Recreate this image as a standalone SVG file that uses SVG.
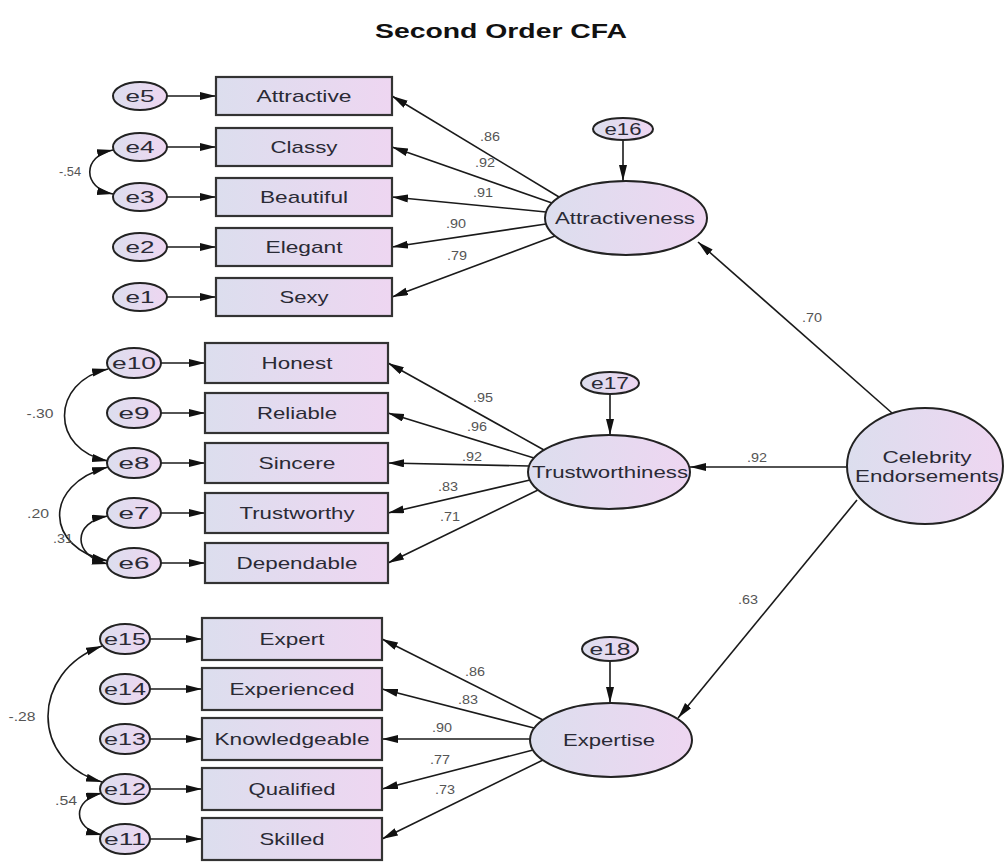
<svg xmlns="http://www.w3.org/2000/svg" width="1004" height="862" viewBox="0 0 1004 862">
<defs>
<linearGradient id="g" x1="0" y1="0" x2="1" y2="0">
<stop offset="0" stop-color="#dcdeee"/>
<stop offset="1" stop-color="#eed6f1"/>
</linearGradient>
<marker id="ah" markerUnits="userSpaceOnUse" markerWidth="17" markerHeight="9" refX="16" refY="4" orient="auto-start-reverse">
<path d="M0,0 L16,4 L0,8 z" fill="#111"/>
</marker>
<style>
.box{fill:url(#g);stroke:#333;stroke-width:2.2}
.ell{fill:url(#g);stroke:#222;stroke-width:2}
.t{font-family:"Liberation Sans",Arial,sans-serif;font-size:17px;fill:#2a2a35;text-anchor:middle}
.lv{font-family:"Liberation Sans",Arial,sans-serif;font-size:16px;fill:#2a2a35;text-anchor:middle}
.n{font-family:"Liberation Sans",Arial,sans-serif;font-size:12px;fill:#555;text-anchor:middle}
.c line,.c path{stroke:#1a1a1a;stroke-width:1.6;fill:none;marker-end:url(#ah)}
.c path.cov{marker-start:url(#ah)}
</style>
</defs>
<rect width="1004" height="862" fill="#fff"/>
<text x="501" y="38" font-family="Liberation Sans,Arial,sans-serif" font-weight="bold" font-size="20" text-anchor="middle" fill="#111" textLength="252" lengthAdjust="spacingAndGlyphs">Second Order CFA</text>

<g id="connectors" class="c">
<!-- Attractiveness group -->
<line x1="167" y1="96" x2="216" y2="96"/>
<line x1="167" y1="147" x2="216" y2="147"/>
<line x1="167" y1="197" x2="216" y2="197"/>
<line x1="167" y1="247" x2="216" y2="247"/>
<line x1="167" y1="297" x2="216" y2="297"/>
<line x1="559" y1="197" x2="392" y2="96"/>
<line x1="552" y1="203" x2="392" y2="147"/>
<line x1="546" y1="212" x2="392" y2="197"/>
<line x1="546" y1="224" x2="392" y2="247"/>
<line x1="555" y1="236" x2="392" y2="297"/>
<line x1="623" y1="140" x2="623" y2="181"/>
<path class="cov" d="M113,150 C82,156 82,188 113,194"/>
<!-- Trustworthiness group -->
<line x1="161" y1="363" x2="205" y2="363"/>
<line x1="161" y1="413" x2="205" y2="413"/>
<line x1="161" y1="463" x2="205" y2="463"/>
<line x1="161" y1="513" x2="205" y2="513"/>
<line x1="161" y1="563" x2="205" y2="563"/>
<line x1="544" y1="450" x2="388" y2="363"/>
<line x1="534" y1="458" x2="388" y2="413"/>
<line x1="529" y1="466" x2="388" y2="463"/>
<line x1="530" y1="480" x2="388" y2="513"/>
<line x1="538" y1="490" x2="388" y2="563"/>
<line x1="610" y1="394" x2="610" y2="435"/>
<path class="cov" d="M108,369 C50,382 50,450 108,461"/>
<path class="cov" d="M108,467 C42,485 45,548 108,561"/>
<path class="cov" d="M108,516 C72,522 72,556 108,564"/>
<!-- Expertise group -->
<line x1="150" y1="639" x2="202" y2="639"/>
<line x1="150" y1="689" x2="202" y2="689"/>
<line x1="150" y1="739" x2="202" y2="739"/>
<line x1="150" y1="789" x2="202" y2="789"/>
<line x1="150" y1="839" x2="202" y2="839"/>
<line x1="543" y1="720" x2="382" y2="639"/>
<line x1="534" y1="728" x2="382" y2="689"/>
<line x1="530" y1="739" x2="382" y2="739"/>
<line x1="533" y1="750" x2="382" y2="789"/>
<line x1="543" y1="760" x2="382" y2="839"/>
<line x1="610" y1="661" x2="610" y2="703"/>
<path class="cov" d="M102,646 C30,672 30,762 102,782"/>
<path class="cov" d="M102,793 C72,800 72,828 102,835"/>
<!-- Second order -->
<line x1="892" y1="413" x2="698" y2="242"/>
<line x1="847" y1="467" x2="690" y2="467"/>
<line x1="857" y1="500" x2="678" y2="718"/>
</g>

<g id="labels">
<text class="n" x="70" y="176" textLength="22" lengthAdjust="spacingAndGlyphs">-.54</text>
<text class="n" x="490" y="141" textLength="20" lengthAdjust="spacingAndGlyphs">.86</text>
<text class="n" x="485" y="167" textLength="20" lengthAdjust="spacingAndGlyphs">.92</text>
<text class="n" x="483" y="197" textLength="20" lengthAdjust="spacingAndGlyphs">.91</text>
<text class="n" x="456" y="228" textLength="20" lengthAdjust="spacingAndGlyphs">.90</text>
<text class="n" x="457" y="260" textLength="20" lengthAdjust="spacingAndGlyphs">.79</text>
<text class="n" x="40" y="418" textLength="27" lengthAdjust="spacingAndGlyphs">-.30</text>
<text class="n" x="38" y="518" textLength="22" lengthAdjust="spacingAndGlyphs">.20</text>
<text class="n" x="63" y="543" textLength="20" lengthAdjust="spacingAndGlyphs">.31</text>
<text class="n" x="483" y="402" textLength="20" lengthAdjust="spacingAndGlyphs">.95</text>
<text class="n" x="477" y="431" textLength="20" lengthAdjust="spacingAndGlyphs">.96</text>
<text class="n" x="472" y="461" textLength="20" lengthAdjust="spacingAndGlyphs">.92</text>
<text class="n" x="448" y="491" textLength="20" lengthAdjust="spacingAndGlyphs">.83</text>
<text class="n" x="450" y="521" textLength="20" lengthAdjust="spacingAndGlyphs">.71</text>
<text class="n" x="22" y="721" textLength="27" lengthAdjust="spacingAndGlyphs">-.28</text>
<text class="n" x="66" y="805" textLength="22" lengthAdjust="spacingAndGlyphs">.54</text>
<text class="n" x="475" y="676" textLength="20" lengthAdjust="spacingAndGlyphs">.86</text>
<text class="n" x="468" y="704" textLength="20" lengthAdjust="spacingAndGlyphs">.83</text>
<text class="n" x="442" y="732" textLength="20" lengthAdjust="spacingAndGlyphs">.90</text>
<text class="n" x="440" y="764" textLength="20" lengthAdjust="spacingAndGlyphs">.77</text>
<text class="n" x="445" y="794" textLength="20" lengthAdjust="spacingAndGlyphs">.73</text>
<text class="n" x="812" y="322" textLength="20" lengthAdjust="spacingAndGlyphs">.70</text>
<text class="n" x="757" y="462" textLength="20" lengthAdjust="spacingAndGlyphs">.92</text>
<text class="n" x="748" y="604" textLength="20" lengthAdjust="spacingAndGlyphs">.63</text>
</g>

<!-- Attractiveness indicators -->
<g id="e5"><ellipse class="ell" cx="140" cy="96" rx="27" ry="14"/><text class="t" x="140" y="102" textLength="29" lengthAdjust="spacingAndGlyphs">e5</text></g>
<g id="e4"><ellipse class="ell" cx="140" cy="147" rx="27" ry="14"/><text class="t" x="140" y="153" textLength="29" lengthAdjust="spacingAndGlyphs">e4</text></g>
<g id="e3"><ellipse class="ell" cx="140" cy="197" rx="27" ry="14"/><text class="t" x="140" y="203" textLength="29" lengthAdjust="spacingAndGlyphs">e3</text></g>
<g id="e2"><ellipse class="ell" cx="140" cy="247" rx="27" ry="14"/><text class="t" x="140" y="253" textLength="29" lengthAdjust="spacingAndGlyphs">e2</text></g>
<g id="e1"><ellipse class="ell" cx="140" cy="297" rx="27" ry="14"/><text class="t" x="140" y="303" textLength="29" lengthAdjust="spacingAndGlyphs">e1</text></g>
<g id="attractive"><rect class="box" x="216" y="77" width="176" height="38"/><text class="t" x="304" y="102" textLength="95" lengthAdjust="spacingAndGlyphs">Attractive</text></g>
<g id="classy"><rect class="box" x="216" y="128" width="176" height="38"/><text class="t" x="304" y="153" textLength="67" lengthAdjust="spacingAndGlyphs">Classy</text></g>
<g id="beautiful"><rect class="box" x="216" y="178" width="176" height="38"/><text class="t" x="304" y="203" textLength="88" lengthAdjust="spacingAndGlyphs">Beautiful</text></g>
<g id="elegant"><rect class="box" x="216" y="228" width="176" height="38"/><text class="t" x="304" y="253" textLength="77" lengthAdjust="spacingAndGlyphs">Elegant</text></g>
<g id="sexy"><rect class="box" x="216" y="278" width="176" height="38"/><text class="t" x="304" y="303" textLength="49" lengthAdjust="spacingAndGlyphs">Sexy</text></g>
<g id="e16"><ellipse class="ell" cx="623" cy="129" rx="30" ry="11"/><text class="t" x="623" y="135" textLength="37" lengthAdjust="spacingAndGlyphs">e16</text></g>
<g id="attractiveness"><ellipse class="ell" cx="626" cy="218" rx="81" ry="37"/><text class="lv" x="625" y="224" textLength="140" lengthAdjust="spacingAndGlyphs">Attractiveness</text></g>

<!-- Trustworthiness indicators -->
<g id="e10"><ellipse class="ell" cx="134" cy="363" rx="27" ry="15"/><text class="t" x="134" y="369" textLength="44" lengthAdjust="spacingAndGlyphs">e10</text></g>
<g id="e9"><ellipse class="ell" cx="134" cy="413" rx="27" ry="15"/><text class="t" x="134" y="419" textLength="31" lengthAdjust="spacingAndGlyphs">e9</text></g>
<g id="e8"><ellipse class="ell" cx="134" cy="463" rx="27" ry="15"/><text class="t" x="134" y="469" textLength="31" lengthAdjust="spacingAndGlyphs">e8</text></g>
<g id="e7"><ellipse class="ell" cx="134" cy="513" rx="27" ry="15"/><text class="t" x="134" y="519" textLength="31" lengthAdjust="spacingAndGlyphs">e7</text></g>
<g id="e6"><ellipse class="ell" cx="134" cy="563" rx="27" ry="15"/><text class="t" x="134" y="569" textLength="31" lengthAdjust="spacingAndGlyphs">e6</text></g>
<g id="honest"><rect class="box" x="205" y="343" width="183" height="40"/><text class="t" x="297" y="369" textLength="71" lengthAdjust="spacingAndGlyphs">Honest</text></g>
<g id="reliable"><rect class="box" x="205" y="393" width="183" height="40"/><text class="t" x="297" y="419" textLength="80" lengthAdjust="spacingAndGlyphs">Reliable</text></g>
<g id="sincere"><rect class="box" x="205" y="443" width="183" height="40"/><text class="t" x="297" y="469" textLength="77" lengthAdjust="spacingAndGlyphs">Sincere</text></g>
<g id="trustworthy"><rect class="box" x="205" y="493" width="183" height="40"/><text class="t" x="297" y="519" textLength="115" lengthAdjust="spacingAndGlyphs">Trustworthy</text></g>
<g id="dependable"><rect class="box" x="205" y="543" width="183" height="40"/><text class="t" x="297" y="569" textLength="121" lengthAdjust="spacingAndGlyphs">Dependable</text></g>
<g id="e17"><ellipse class="ell" cx="610" cy="383" rx="29" ry="11"/><text class="t" x="610" y="389" textLength="38" lengthAdjust="spacingAndGlyphs">e17</text></g>
<g id="trustworthiness"><ellipse class="ell" cx="609" cy="472" rx="81" ry="37"/><text class="lv" x="610" y="478" textLength="156" lengthAdjust="spacingAndGlyphs">Trustworthiness</text></g>

<!-- Expertise indicators -->
<g id="e15"><ellipse class="ell" cx="125" cy="639" rx="25" ry="15"/><text class="t" x="125" y="645" textLength="42" lengthAdjust="spacingAndGlyphs">e15</text></g>
<g id="e14"><ellipse class="ell" cx="125" cy="689" rx="25" ry="15"/><text class="t" x="125" y="695" textLength="42" lengthAdjust="spacingAndGlyphs">e14</text></g>
<g id="e13"><ellipse class="ell" cx="125" cy="739" rx="25" ry="15"/><text class="t" x="125" y="745" textLength="42" lengthAdjust="spacingAndGlyphs">e13</text></g>
<g id="e12"><ellipse class="ell" cx="125" cy="789" rx="25" ry="15"/><text class="t" x="125" y="795" textLength="42" lengthAdjust="spacingAndGlyphs">e12</text></g>
<g id="e11"><ellipse class="ell" cx="125" cy="839" rx="25" ry="15"/><text class="t" x="125" y="845" textLength="42" lengthAdjust="spacingAndGlyphs">e11</text></g>
<g id="expert"><rect class="box" x="202" y="618" width="180" height="42"/><text class="t" x="292" y="645" textLength="65" lengthAdjust="spacingAndGlyphs">Expert</text></g>
<g id="experienced"><rect class="box" x="202" y="668" width="180" height="42"/><text class="t" x="292" y="695" textLength="125" lengthAdjust="spacingAndGlyphs">Experienced</text></g>
<g id="knowledgeable"><rect class="box" x="202" y="718" width="180" height="42"/><text class="t" x="292" y="745" textLength="155" lengthAdjust="spacingAndGlyphs">Knowledgeable</text></g>
<g id="qualified"><rect class="box" x="202" y="768" width="180" height="42"/><text class="t" x="292" y="795" textLength="87" lengthAdjust="spacingAndGlyphs">Qualified</text></g>
<g id="skilled"><rect class="box" x="202" y="818" width="180" height="42"/><text class="t" x="292" y="845" textLength="65" lengthAdjust="spacingAndGlyphs">Skilled</text></g>
<g id="e18"><ellipse class="ell" cx="610" cy="649" rx="28" ry="12"/><text class="t" x="610" y="655" textLength="41" lengthAdjust="spacingAndGlyphs">e18</text></g>
<g id="expertise"><ellipse class="ell" cx="611" cy="740" rx="81" ry="37"/><text class="lv" x="609" y="746" textLength="92" lengthAdjust="spacingAndGlyphs">Expertise</text></g>

<g id="celebrity"><ellipse class="ell" cx="925" cy="466" rx="78" ry="58"/><text class="lv" x="927" y="463" textLength="89" lengthAdjust="spacingAndGlyphs">Celebrity</text><text class="lv" x="927" y="482" textLength="144" lengthAdjust="spacingAndGlyphs">Endorsements</text></g>
</svg>
